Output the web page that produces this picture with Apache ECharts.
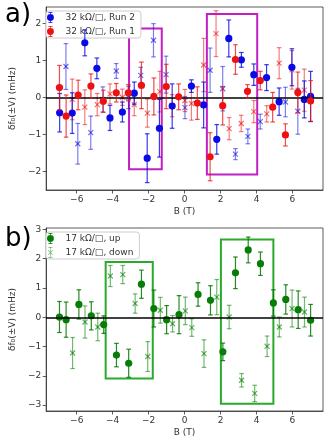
<!DOCTYPE html>
<html>
<head>
<meta charset="utf-8">
<script src="https://cdn.jsdelivr.net/npm/echarts@6/dist/echarts.min.js"></script>
<style>
html, body { margin: 0; padding: 0; background: #fff; }
#chart { width: 333px; height: 448px; }
</style>
</head>
<body>
<div id="chart"></div>
<script>
// a) 32 kΩ/□ - Run 2 (blue)
var aRun2X = [-6.95, -6.25, -5.55, -4.88, -4.15, -3.46, -2.8, -2.08, -1.4, -0.69, 0.38, 1.06, 1.79, 2.46, 3.16, 3.85, 4.56, 5.26, 5.97, 6.66, 7.01];
var aRun2Y = [-0.41, -0.42, 1.48, 0.79, -0.55, -0.39, 0.12, -1.64, -0.83, -0.23, 0.31, -0.2, -1.13, 1.6, 1.02, 0.62, 0.54, -0.11, 0.82, -0.05, 0.03];
var aRun2Err = [0.52, 0.55, 0.35, 0.28, 0.34, 0.27, 0.3, 0.66, 0.78, 0.6, 0.17, 0.62, 0.4, 0.5, 0.2, 0.29, 0.35, 0.37, 0.5, 0.5, 0.68];
var aRun2xX = [-6.6, -5.94, -5.22, -4.55, -3.8, -3.12, -2.44, -1.73, -1.03, 0.02, 1.42, 2.12, 2.83, 3.52, 4.21, 5.61, 6.3];
var aRun2xY = [0.84, -1.25, -0.95, -0.05, 0.72, 0.0, 0.6, 1.55, 0.62, -0.27, 0.74, 0.24, -1.53, -1.05, -0.65, -0.12, -0.37];
var aRun2xErr = [0.62, 0.55, 0.45, 0.34, 0.2, 0.3, 0.22, 0.45, 0.5, 0.3, 0.6, 0.6, 0.15, 0.2, 0.2, 0.4, 0.62];

// a) 32 kΩ/□ - Run 1 (red)
var aRun1X = [-6.96, -6.59, -5.92, -5.21, -4.52, -3.8, -3.13, -2.4, -1.71, -1.02, -0.33, 0.71, 1.42, 2.12, 2.83, 3.5, 4.21, 4.9, 5.61, 6.3, 7.01];
var aRun1Y = [0.27, -0.5, 0.07, 0.31, -0.1, 0.13, 0.13, 0.33, 0.03, 0.3, 0.02, -0.15, -1.6, -0.22, 1.03, 0.17, 0.46, -0.26, -1.01, 0.14, -0.09];
var aRun1Err = [0.6, 0.57, 0.4, 0.33, 0.3, 0.25, 0.22, 0.63, 0.5, 0.6, 0.35, 0.44, 0.65, 0.52, 0.4, 0.18, 0.25, 0.4, 0.3, 0.55, 0.55];
var aRun1xX = [-6.25, -5.55, -4.86, -4.15, -3.46, -2.8, -2.07, -1.38, -0.69, 0.02, 0.38, 1.06, 1.75, 2.48, 3.15, 3.85, 4.57, 5.26, 5.97, 6.66];
var aRun1xY = [-0.05, -0.26, -0.19, 0.1, 0.01, -0.19, -0.42, 0.16, -0.22, -0.08, -0.16, 0.88, 1.73, -0.84, -0.7, -0.38, -0.44, 0.93, 0.75, 0.2];
var aRun1xErr = [0.55, 0.47, 0.3, 0.27, 0.22, 0.3, 0.38, 0.55, 0.3, 0.3, 0.45, 0.72, 0.62, 0.3, 0.22, 0.3, 0.22, 0.42, 0.52, 0.57];

// b) 17 kΩ/□ - up / down
var bUpX = [-6.96, -6.59, -5.88, -5.19, -4.5, -3.79, -3.11, -2.4, -1.71, -1.0, -0.31, 0.75, 1.44, 2.13, 2.83, 3.54, 4.22, 4.94, 5.63, 6.32, 7.01];
var bUpY = [0.01, -0.08, 0.44, 0.05, -0.25, -1.29, -1.57, 1.13, 0.3, -0.08, 0.09, 0.78, 0.58, -1.18, 1.52, 2.3, 1.83, 0.49, 0.61, 0.26, -0.1];
var bUpErr = [0.53, 0.6, 0.5, 0.48, 0.3, 0.4, 0.48, 0.48, 0.63, 0.48, 0.65, 0.4, 0.5, 0.3, 0.54, 0.44, 0.4, 0.45, 0.5, 0.64, 0.54];
var bDownX = [-6.23, -5.54, -4.83, -4.13, -3.44, -2.75, -2.05, -1.35, -0.67, 0.04, 0.4, 1.08, 1.79, 2.48, 3.17, 3.9, 4.59, 5.27, 5.98, 6.67];
var bDownY = [-1.22, -0.16, -0.33, 1.41, 1.46, 0.47, -1.34, 0.24, -0.22, 0.22, -0.35, -1.24, 0.69, 0.01, -2.15, -2.6, -0.99, -0.33, 0.3, 0.18];
var bDownErr = [0.53, 0.55, 0.47, 0.36, 0.31, 0.33, 0.51, 0.44, 0.28, 0.47, 0.3, 0.47, 0.6, 0.4, 0.23, 0.28, 0.35, 0.34, 0.63, 0.51];

// highlight boxes [xmin, xmax, ymin, ymax]
var aBoxes = [[-3.09, -1.27, -1.94, 1.87], [1.24, 4.04, -2.08, 2.26]];
var bBoxes = [[-4.39, -1.77, -2.09, 1.89], [2.02, 4.94, -2.95, 2.66]];

// ticks
var xTicks = [-6, -4, -2, 0, 2, 4, 6];
var aYTicks = [-2, -1, 0, 1, 2];
var bYTicks = [-3, -2, -1, 0, 1, 2, 3];

var FONT = 'DejaVu Sans';
var circIcon = 'path://M2,0H8V1H2Z M2,15H8V16H2Z M4.5,0H5.5V16H4.5Z M0,8A5,5 0 1,1 10,8A5,5 0 1,1 0,8Z';
var crossIcon = 'path://M2,0H8V1H2Z M2,15H8V16H2Z M4.6,0H5.4V16H4.6Z M1.5,5.2L2.2,4.5L8.5,10.8L7.8,11.5Z M7.8,4.5L8.5,5.2L2.2,11.5L1.5,10.8Z';

function rows(xs, ys, es) {
    var out = [];
    for (var i = 0; i < xs.length; i++) {
        out.push([xs[i], ys[i], es[i]]);
    }
    return out;
}

function minus(v) {
    return String(v).replace('-', '\u2212');
}

/**
 * 误差棒 + 标记 (o / x)
 */
function errSeries(name, xs, ys, es, idx, color, barColor, marker, z) {
    return {
        name: name,
        type: 'custom',
        xAxisIndex: idx,
        yAxisIndex: idx,
        z: z,
        itemStyle: {color: color},
        encode: {x: 0, y: 1},
        data: rows(xs, ys, es),
        renderItem: function (params, api) {
            var x = api.value(0), y = api.value(1), e = api.value(2);
            var p = api.coord([x, y]);
            var hi = api.coord([x, y + e])[1];
            var lo = api.coord([x, y - e])[1];
            var bar = {stroke: barColor, lineWidth: 1.2};
            var kids = [
                {type: 'line', shape: {x1: p[0], y1: hi, x2: p[0], y2: lo}, style: bar},
                {type: 'line', shape: {x1: p[0] - 2.3, y1: hi, x2: p[0] + 2.3, y2: hi}, style: bar},
                {type: 'line', shape: {x1: p[0] - 2.3, y1: lo, x2: p[0] + 2.3, y2: lo}, style: bar}
            ];
            if (marker == 'o') {
                kids.push({type: 'circle', shape: {cx: p[0], cy: p[1], r: 3.6}, style: {fill: color}});
            } else {
                var s = 2.5, mk = {stroke: color, lineWidth: 1.2};
                kids.push({type: 'line', shape: {x1: p[0] - s, y1: p[1] - s, x2: p[0] + s, y2: p[1] + s}, style: mk});
                kids.push({type: 'line', shape: {x1: p[0] - s, y1: p[1] + s, x2: p[0] + s, y2: p[1] - s}, style: mk});
            }
            return {type: 'group', children: kids};
        }
    };
}

function boxAreas(boxes) {
    var out = [];
    for (var i = 0; i < boxes.length; i++) {
        var b = boxes[i];
        out.push([{coord: [b[0], b[3]]}, {coord: [b[1], b[2]]}]);
    }
    return out;
}

function withMarks(series, boxes, boxColor) {
    series.markLine = {
        silent: true,
        symbol: ['none', 'none'],
        label: {show: false},
        lineStyle: {color: '#000', width: 1.5, type: 'solid'},
        data: [{yAxis: 0}]
    };
    series.markArea = {
        silent: true,
        itemStyle: {color: 'rgba(0,0,0,0)', borderColor: boxColor, borderWidth: 2},
        data: boxAreas(boxes)
    };
    return series;
}

function xAxisCfg(idx) {
    return {
        type: 'value', gridIndex: idx, min: -7.7, max: 7.7,
        name: 'B (T)', nameLocation: 'middle', nameGap: 17,
        nameTextStyle: {fontFamily: FONT, fontSize: 9, color: '#333'},
        axisLine: {show: true, onZero: false, lineStyle: {color: '#333', width: 0.8}},
        axisTick: {show: true, length: 3.5, customValues: xTicks, lineStyle: {color: '#333', width: 0.8}},
        axisLabel: {fontFamily: FONT, fontSize: 9, color: '#333', margin: 5, customValues: xTicks, formatter: minus},
        splitLine: {show: false}
    };
}

function yAxisCfg(idx, min, max, ticks) {
    return {
        type: 'value', gridIndex: idx, min: min, max: max,
        name: 'δf\u2080(±V) (mHz)', nameLocation: 'middle', nameGap: 22,
        nameTextStyle: {fontFamily: FONT, fontSize: 9, color: '#333'},
        axisLine: {show: true, onZero: false, lineStyle: {color: '#333', width: 0.8}},
        axisTick: {show: true, length: 3.5, customValues: ticks, lineStyle: {color: '#333', width: 0.8}},
        axisLabel: {fontFamily: FONT, fontSize: 9, color: '#333', margin: 5, customValues: ticks, formatter: minus},
        splitLine: {show: false}
    };
}

function legendCfg(top, items) {
    return {
        orient: 'vertical', left: 46, top: top,
        data: items,
        itemWidth: 20, itemHeight: 11, itemGap: 3,
        padding: [1, 6, 1, 1],
        backgroundColor: '#fff', borderColor: '#ccc', borderWidth: 1, borderRadius: 3,
        selectedMode: false,
        textStyle: {fontFamily: FONT, fontSize: 9, color: '#333'}
    };
}

var chart = echarts.init(document.getElementById('chart'));

chart.setOption({
    animation: false,
    backgroundColor: '#fff',
    title: [
        {text: 'a)', left: 0, top: -3, textStyle: {fontFamily: FONT, fontSize: 26, fontWeight: 'normal', color: '#000'}},
        {text: 'b)', left: 0, top: 221, textStyle: {fontFamily: FONT, fontSize: 26, fontWeight: 'normal', color: '#000'}}
    ],
    legend: [
        legendCfg(11, [{name: '32 kΩ/□, Run 2', icon: circIcon}, {name: '32 kΩ/□, Run 1', icon: circIcon}]),
        legendCfg(232, [{name: '17 kΩ/□, up', icon: circIcon}, {name: '17 kΩ/□, down', icon: crossIcon}])
    ],
    grid: [
        {left: 42, top: 7, width: 281, height: 183, show: true, borderColor: '#333', borderWidth: 0.8, backgroundColor: 'transparent'},
        {left: 42, top: 228, width: 281, height: 183, show: true, borderColor: '#333', borderWidth: 0.8, backgroundColor: 'transparent'}
    ],
    xAxis: [xAxisCfg(0), xAxisCfg(1)],
    yAxis: [yAxisCfg(0, -2.5, 2.45, aYTicks), yAxisCfg(1, -3.2, 3.05, bYTicks)],
    series: [
        withMarks(errSeries('a-run2-x', aRun2xX, aRun2xY, aRun2xErr, 0, 'rgba(20,20,230,0.6)', 'rgba(20,20,230,0.55)', 'x', 2), aBoxes, '#c21fc2'),
        errSeries('a-run1-x', aRun1xX, aRun1xY, aRun1xErr, 0, 'rgba(235,20,20,0.6)', 'rgba(235,20,20,0.55)', 'x', 3),
        errSeries('32 kΩ/□, Run 2', aRun2X, aRun2Y, aRun2Err, 0, '#0a0ae6', 'rgba(10,10,230,0.8)', 'o', 4),
        errSeries('32 kΩ/□, Run 1', aRun1X, aRun1Y, aRun1Err, 0, '#ee1111', 'rgba(238,17,17,0.75)', 'o', 5),
        withMarks(errSeries('17 kΩ/□, down', bDownX, bDownY, bDownErr, 1, 'rgba(0,128,0,0.6)', 'rgba(0,128,0,0.55)', 'x', 3), bBoxes, '#2aaa2a'),
        errSeries('17 kΩ/□, up', bUpX, bUpY, bUpErr, 1, '#067d06', 'rgba(0,120,0,0.85)', 'o', 4)
    ]
});

window.onresize = function () {
    chart.resize();
};
</script>
</body>
</html>
